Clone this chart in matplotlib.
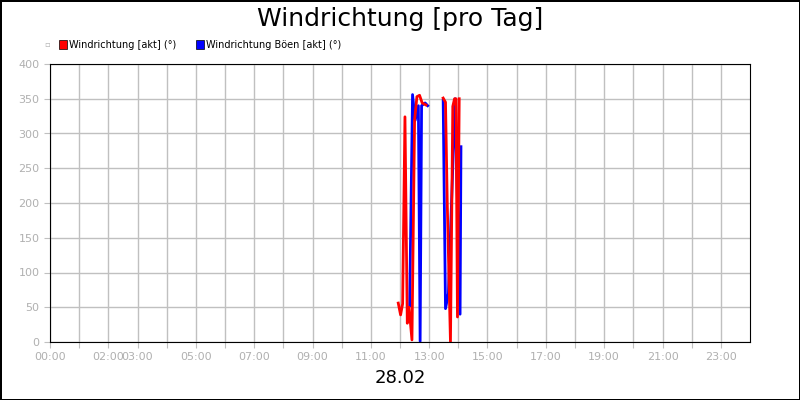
import matplotlib
matplotlib.use("Agg")
import matplotlib.pyplot as plt
import numpy as np

# hours of day
red_t = [11.94, 12.02, 12.09, 12.17, 12.25, 12.31, 12.41, 12.50, 12.58, 12.67, 12.76, 12.89, 12.95,
         13.48, 13.56, 13.62, 13.73, 13.81, 13.87, 13.92, 13.97, 14.03]
red_v = [56, 39, 55, 324, 27, 50, 3, 319, 353, 355, 344, 341, np.nan,
         351, 345, 200, 0, 339, 350, 350, 36, 350]
blue_t = [12.33, 12.43, 12.52, 12.63, 12.69, 12.74, 12.86, 12.95, 13.0,
          13.48, 13.56, 13.66, 13.89, 14.06, 14.09]
blue_v = [52, 356, 319, 340, 1, 340, 344, 340, np.nan,
          348, 48, 70, 350, 40, 281]
tick_hours = [0, 2, 3, 5, 7, 9, 11, 13, 15, 17, 19, 21, 23]

fig = plt.figure(figsize=(8, 4), dpi=100)
fig.patch.set_facecolor("white")
fig.patch.set_edgecolor("black")
fig.patch.set_linewidth(2)
ax = fig.add_axes([50/800, 58/400, 700/800, 278/400])
ax.plot(blue_t, blue_v, color="#0000ff", lw=2)
ax.plot(red_t, red_v, color="#ff0000", lw=2)
ax.set_xlim(0, 24)
ax.set_ylim(0, 400)
ax.set_xticks(range(0, 24))
ax.set_xticklabels([("%02d:00" % h) if h in tick_hours else "" for h in range(24)])
ax.set_yticks(range(0, 401, 50))
ax.grid(True, color="#c0c0c0", lw=1)
ax.tick_params(colors="#c0c0c0", labelsize=8, labelcolor="#b0b0b0", length=4)
for s in ax.spines.values():
    s.set_color("black")
fig.text(0.5, 0.952, "Windrichtung [pro Tag]", ha="center", va="center", fontsize=18)
fig.text(0.5, 0.055, "28.02", ha="center", va="center", fontsize=13)
# legend
fig.text(0.055, 0.888, "▫", color="#b0b0b0", fontsize=6, va="center")
fig.patches.append(plt.Rectangle((59/800, 0.877), 8/800, 0.022, transform=fig.transFigure, fc="red", ec="black", lw=0.5))
fig.text(69/800, 0.888, "Windrichtung [akt] (°)", fontsize=7, va="center")
fig.patches.append(plt.Rectangle((196/800, 0.877), 8/800, 0.022, transform=fig.transFigure, fc="blue", ec="black", lw=0.5))
fig.text(206/800, 0.888, "Windrichtung Böen [akt] (°)", fontsize=7, va="center")
fig.savefig("out.png", dpi=100)
